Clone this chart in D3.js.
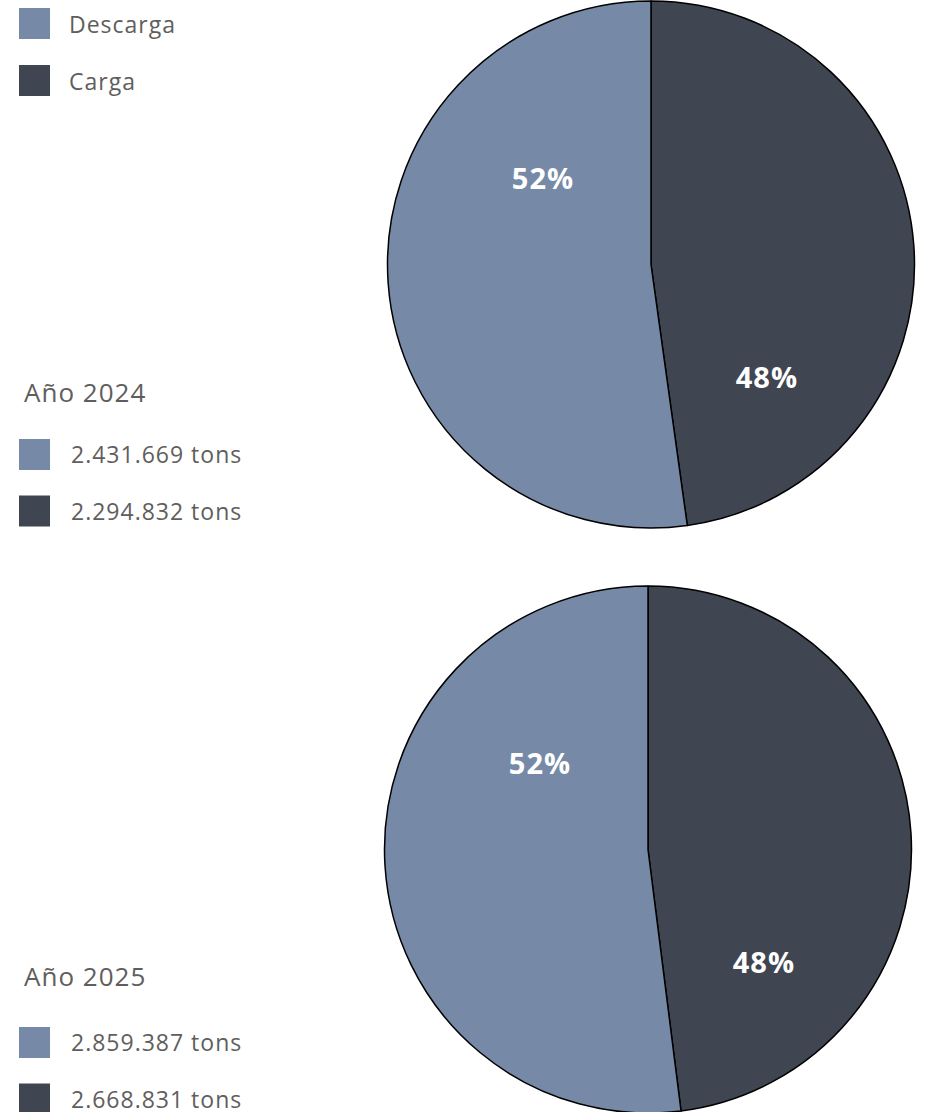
<!DOCTYPE html>
<html>
<head>
<meta charset="utf-8">
<script src="https://cdn.jsdelivr.net/npm/d3@7"></script>
<style>
  html, body { margin: 0; padding: 0; background: #ffffff; }
  svg { display: block; }
</style>
</head>
<body>
<svg id="chart" width="925" height="1112"></svg>
<script>
// ---- data ----
const categories = ["Descarga", "Carga"];
const colors = ["#7689a6", "#3f4652"];
const years = ["Año 2024", "Año 2025"];
const tonsLabels2024 = ["2.431.669 tons", "2.294.832 tons"];
const tonsLabels2025 = ["2.859.387 tons", "2.668.831 tons"];
// pie shares (%): [Descarga, Carga]
const shares2024 = [52.2, 47.8];
const shares2025 = [52.0, 48.0];

const svg = d3.select("#chart");
const textColor = "#605e5c";
const fontFam = "'Open Sans', 'Noto Sans', sans-serif";

// ---- top legend ----
const legend = svg.append("g");
categories.forEach((c, i) => {
  const y = 8 + i * 57;
  legend.append("rect").attr("x", 19).attr("y", y).attr("width", 31).attr("height", 31).attr("fill", colors[i]);
  legend.append("text").attr("x", 69).attr("y", y + 25)
    .attr("font-family", fontFam).attr("font-size", 23).attr("letter-spacing", 1)
    .attr("fill", textColor).text(c);
});

// ---- panels ----
const panels = [
  { title: years[0], labels: tonsLabels2024, shares: shares2024, cx: 651, cy: 264.5, titleY: 402, itemY: 439 },
  { title: years[1], labels: tonsLabels2025, shares: shares2025, cx: 648, cy: 849.5, titleY: 986, itemY: 1027 }
];
const r = 263.5;

// order: Carga clockwise from 12 o'clock, then Descarga
const pie = d3.pie().sort(null).value(d => d.v);
const arc = d3.arc().innerRadius(0).outerRadius(r);

panels.forEach(p => {
  const data = [
    { name: categories[1], v: p.shares[1], color: colors[1], lx: 0.44, ly: 0.43 },
    { name: categories[0], v: p.shares[0], color: colors[0], lx: -0.41, ly: -0.325 }
  ];
  const total = d3.sum(data, d => d.v);
  const g = svg.append("g").attr("transform", `translate(${p.cx},${p.cy})`);
  const arcs = pie(data);
  g.selectAll("path").data(arcs).enter().append("path")
    .attr("d", arc)
    .attr("fill", d => d.data.color)
    .attr("stroke", "#000").attr("stroke-width", 1.5).attr("stroke-linejoin", "round");
  g.selectAll("text.pct").data(arcs).enter().append("text")
    .attr("class", "pct")
    .attr("x", d => d.data.lx * r)
    .attr("y", d => d.data.ly * r)
    .attr("dy", "0.35em")
    .attr("text-anchor", "middle")
    .attr("font-family", fontFam).attr("font-weight", "bold").attr("font-size", 29)
    .attr("letter-spacing", 1)
    .attr("fill", "#ffffff")
    .text(d => Math.round(d.data.v / total * 100) + "%");

  // side legend
  svg.append("text").attr("x", 24).attr("y", p.titleY)
    .attr("font-family", fontFam).attr("font-size", 26).attr("letter-spacing", 1)
    .attr("fill", textColor).text(p.title);
  p.labels.forEach((t, i) => {
    const y = p.itemY + i * 56.5;
    svg.append("rect").attr("x", 19).attr("y", y).attr("width", 31).attr("height", 31).attr("fill", colors[i]);
    svg.append("text").attr("x", 71).attr("y", y + 24)
      .attr("font-family", fontFam).attr("font-size", 23).attr("letter-spacing", 1)
      .attr("fill", textColor).text(t);
  });
});
</script>
</body>
</html>
